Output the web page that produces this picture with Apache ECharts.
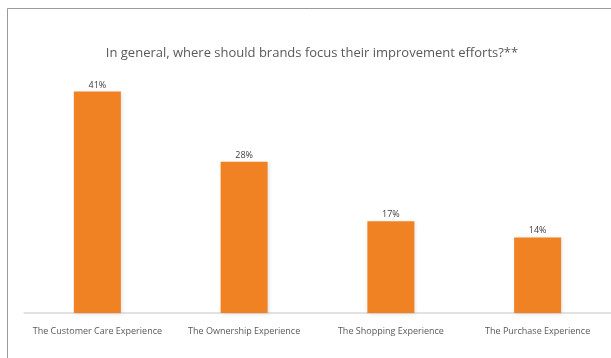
<!DOCTYPE html>
<html>
<head>
<meta charset="utf-8">
<script src="https://cdn.jsdelivr.net/npm/echarts@6/dist/echarts.min.js"></script>
<style>
  html, body { margin: 0; padding: 0; background: #ffffff; }
  #chart { width: 611px; height: 358px; }
</style>
</head>
<body>
<div id="chart"></div>
<script>
// Survey question and answers
const titleText = 'In general, where should brands focus their improvement efforts?**';
const categories = [
  'The Customer Care Experience',
  'The Ownership Experience',
  'The Shopping Experience',
  'The Purchase Experience'
];
const shares = [41, 28, 17, 14];

const chart = echarts.init(document.getElementById('chart'), null, { renderer: 'canvas' });

chart.setOption({
  animation: false,
  backgroundColor: '#ffffff',
  graphic: [{
    type: 'rect',
    silent: true,
    shape: { x: 7.5, y: 8.5, width: 700, height: 400 },
    style: { fill: 'none', stroke: '#9a9a9a', lineWidth: 1 }
  }],
  title: {
    text: titleText,
    left: 307,
    textAlign: 'center',
    top: 42,
    textStyle: {
      fontFamily: 'Open Sans',
      fontSize: 13,
      fontWeight: 'normal',
      color: '#595959'
    }
  },
  grid: { left: 24, top: 70, width: 592, height: 243, containLabel: false },
  xAxis: {
    type: 'category',
    data: categories,
    axisLine: { lineStyle: { color: '#d9d9d9', width: 1.5 } },
    axisTick: { show: false },
    axisLabel: {
      interval: 0,
      margin: 14,
      fontFamily: 'Open Sans',
      fontSize: 9,
      color: '#595959'
    }
  },
  yAxis: {
    type: 'value',
    min: 0,
    max: 45,
    show: false,
    splitLine: { show: false }
  },
  series: [{
    type: 'bar',
    data: shares,
    barWidth: 47,
    itemStyle: {
      color: '#f08224',
      shadowColor: 'rgba(0,0,0,0.12)',
      shadowBlur: 4,
      shadowOffsetX: 1,
      shadowOffsetY: 1
    },
    label: {
      show: true,
      position: 'top',
      distance: 2,
      formatter: '{c}%',
      fontFamily: 'Open Sans',
      fontSize: 9,
      color: '#404040'
    }
  }]
});
</script>
</body>
</html>
